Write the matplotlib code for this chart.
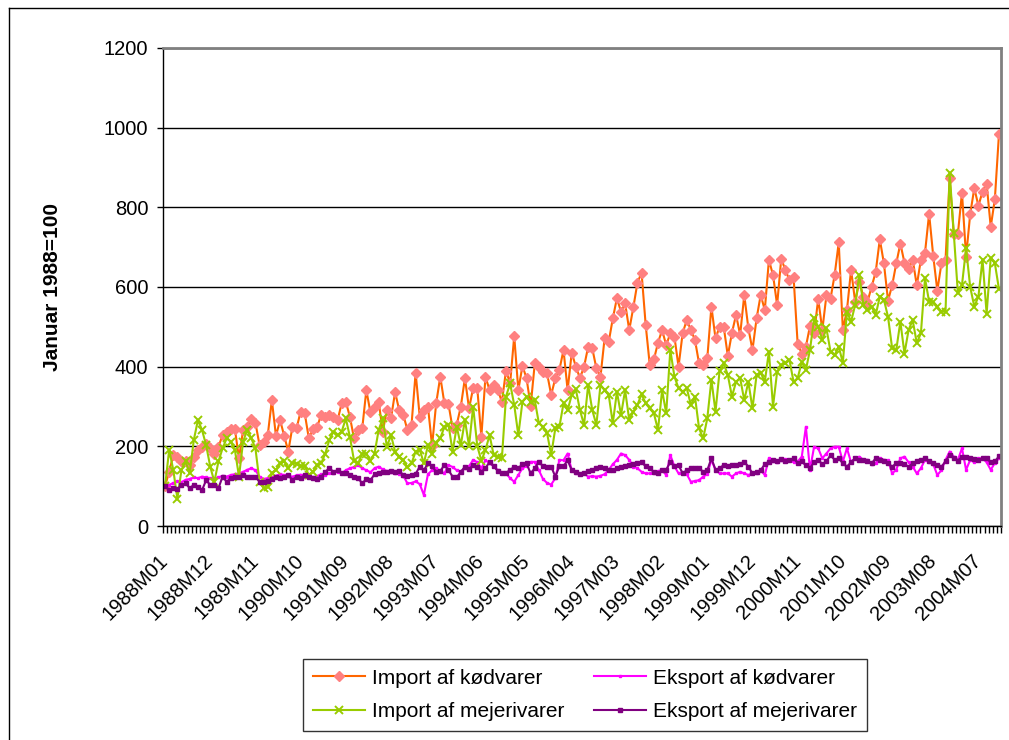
import matplotlib.pyplot as plt
import numpy as np
from matplotlib.lines import Line2D

plt.rcParams['font.family'] = ['Liberation Sans', 'DejaVu Sans']

# Indeks, januar 1988 = 100, månedlige værdier 1988M01-2004M12
import_kod = [
    100, 136, 178, 174, 162, 164, 153, 174, 191, 199, 206, 195, 182, 199, 228, 237, 243, 243, 170, 241,
    249, 268, 259, 203, 212, 228, 316, 226, 266, 226, 187, 249, 245, 287, 283, 220, 243, 248, 279, 273,
    279, 274, 266,
    308, 312, 274, 220, 241, 245, 341, 285, 300, 312, 237, 291, 270, 336, 291, 279, 241, 254, 385, 274,
    291, 300, 201, 308, 375, 308, 306, 245, 254, 300, 371, 295, 346, 346, 224, 375, 341, 354, 341, 312,
    390, 358, 477, 341, 402, 371, 301, 408, 400, 387, 383, 329, 371, 392,
    442, 341, 435, 400, 371, 400, 450, 446, 396, 375, 471, 462, 521, 572, 538, 559, 492, 549, 611, 636,
    505, 404, 418, 460, 492, 454, 484, 475, 400, 484, 517, 492, 467, 408, 404, 421, 551, 471, 500, 500,
    427, 485, 530, 480, 580, 496, 442, 521, 580,
    542, 668, 630, 555, 671, 643, 617, 626, 457, 433, 450, 502, 484, 570, 492, 579, 571, 630, 712, 492,
    542, 643, 563, 613, 576, 563, 600, 638, 720, 659, 566, 604, 659, 709, 661, 644, 669, 604, 669, 686,
    784, 678, 591, 659, 669, 873, 733, 733, 837, 676, 783, 848, 804, 839, 859, 751, 820, 983,
]

eksport_kod = [
    100, 103, 108, 112, 110, 116, 118, 122, 120, 124, 122, 120, 118, 122, 126, 124, 128, 130, 132, 136,
    141, 145, 140, 124, 118, 120, 122, 126, 130, 128, 125, 124, 127, 129, 124, 126, 122, 125, 130, 128,
    132, 134, 136,
    132, 140, 145, 148, 153, 145, 140, 135, 145, 149, 142, 138, 136, 134, 130, 126, 107, 108, 112, 105,
    78, 130, 140, 145, 138, 132, 153, 148, 140, 136, 145, 150, 166, 160, 145, 165, 158, 150, 140, 132,
    132, 120, 111, 128, 145, 150, 161, 161, 140, 118, 108, 104, 120, 166,
    165, 182, 140, 132, 130, 132, 124, 125, 124, 126, 130, 141, 155, 166, 182, 178, 166, 149, 145, 136,
    132, 132, 132, 138, 140, 128, 178, 150, 132, 132, 130, 111, 113, 115, 124, 130, 166, 141, 132, 132,
    132, 124, 132, 136, 132, 128, 132, 132, 140,
    128, 170, 162, 160, 166, 168, 165, 160, 162, 174, 249, 141, 199, 195, 170, 182, 195, 199, 199, 162,
    195, 160, 170, 174, 166, 166, 155, 158, 170, 166, 165, 132, 141, 170, 174, 160, 149, 132, 145, 166,
    160, 155, 128, 140, 166, 187, 174, 166, 195, 141, 166, 160, 170, 170, 160, 141, 158, 170,
]

import_mejeri = [
    100, 191, 141, 69, 141, 162, 132, 216, 266, 241, 203, 149, 111, 162, 195, 220, 212, 191, 124, 212,
    241, 220, 195, 111, 95, 99, 132, 141, 157, 162, 145, 159, 156, 151, 151, 128, 136, 153, 157, 182,
    216, 237, 228,
    237, 270, 224, 164, 157, 182, 182, 164, 182, 241, 270, 199, 228, 187, 174, 166, 147, 157, 187, 192,
    157, 203, 182, 208, 220, 249, 254, 187, 249, 203, 266, 201, 300, 201, 164, 191, 228, 178, 174, 170,
    325, 358, 304, 228, 312, 325, 312, 316, 258, 249, 233, 178, 245, 249,
    308, 291, 329, 343, 291, 254, 354, 291, 254, 354, 341, 329, 258, 337, 279, 341, 266, 287, 304, 331,
    308, 295, 283, 241, 341, 283, 442, 375, 346, 337, 346, 304, 325, 245, 220, 270, 367, 287, 390, 408,
    379, 325, 362, 371, 316, 362, 295, 379, 385,
    362, 438, 300, 387, 404, 408, 417, 362, 371, 412, 392, 442, 521, 500, 467, 496, 438, 429, 450, 410,
    538, 513, 555, 630, 555, 542, 551, 530, 576, 568, 525, 446, 442, 513, 433, 492, 517, 459, 484, 622,
    563, 563, 551, 538, 538, 887, 736, 585, 605, 697, 600, 551, 576, 669, 533, 673, 660, 595,
]

eksport_mejeri = [
    100, 90, 95, 92, 103, 107, 95, 103, 97, 90, 115, 103, 103, 95, 124, 111, 120, 124, 124, 128,
    124, 124, 124, 111, 111, 114, 117, 124, 120, 124, 128, 115, 124, 120, 128, 124, 120, 117, 124, 136,
    145, 136, 140,
    132, 132, 128, 124, 120, 107, 118, 115, 130, 134, 136, 136, 138, 136, 138, 128, 126, 128, 131, 149,
    140, 157, 150, 136, 138, 153, 140, 124, 122, 136, 149, 142, 153, 148, 136, 145, 161, 150, 138, 132,
    134, 140, 149, 145, 155, 157, 132, 145, 161, 150, 149, 149, 124, 150,
    150, 165, 140, 135, 130, 132, 138, 141, 145, 149, 145, 141, 140, 145, 149, 151, 153, 155, 157, 160,
    150, 145, 135, 132, 140, 141, 161, 150, 153, 132, 140, 145, 145, 145, 136, 140, 170, 141, 145, 153,
    151, 153, 153, 155, 161, 149, 132, 136, 140,
    155, 161, 166, 163, 168, 164, 166, 170, 158, 162, 152, 145, 160, 166, 155, 162, 178, 166, 170, 157,
    149, 160, 170, 166, 166, 164, 157, 170, 166, 162, 157, 149, 157, 157, 155, 149, 157, 162, 166, 170,
    164, 157, 153, 149, 162, 178, 170, 164, 174, 174, 170, 168, 166, 170, 170, 160, 162, 175,
]

months = [f'{1988 + k // 12}M{k % 12 + 1:02d}' for k in range(len(import_kod))]
label_step = 11

W, H = 1009, 740
fig = plt.figure(figsize=(W / 100, H / 100), dpi=100)
ax = fig.add_axes([163 / W, 1 - 526 / H, (1001 - 163) / W, (526 - 48) / H])

x = np.arange(len(months))
l1, = ax.plot(x, import_kod, color='#FF6600', lw=1.5, marker='D', ms=5.5,
              mfc='#FF8080', mec='#FF8080', label='Import af kødvarer')
l2, = ax.plot(x, eksport_kod, color='#FF00FF', lw=1.5, marker='s', ms=2,
              mfc='#FF00FF', mec='#FF00FF', label='Eksport af kødvarer')
l3, = ax.plot(x, import_mejeri, color='#99CC00', lw=1.5, marker='x', ms=6, mew=1.4,
              label='Import af mejerivarer')
l4, = ax.plot(x, eksport_mejeri, color='#800080', lw=1.5, marker='s', ms=3,
              mfc='#800080', mec='#800080', label='Eksport af mejerivarer')

ax.set_ylim(0, 1200)
ax.set_yticks(range(0, 1201, 200))
ax.yaxis.grid(True, color='black', lw=1)
ax.set_axisbelow(True)

ax.set_xlim(-0.5, len(x) - 0.5)
ax.set_xticks(x[::label_step])
ax.set_xticklabels(months[::label_step], rotation=45, ha='right', va='center',
                   rotation_mode='anchor')
ax.set_xticks(np.arange(-0.5, len(x), 1), minor=True)
ax.tick_params(axis='x', which='major', length=0, pad=23, labelsize=14.5)
ax.tick_params(axis='x', which='minor', length=5, width=1, direction='out')
ax.tick_params(axis='y', length=4.5, width=1, pad=6, labelsize=14.5)

for side in ('top', 'right'):
    ax.spines[side].set_color('#808080')
    ax.spines[side].set_linewidth(2)
for side in ('left', 'bottom'):
    ax.spines[side].set_color('black')
    ax.spines[side].set_linewidth(1)

fig.text(53 / W, 1 - 287 / H, 'Januar 1988=100', rotation=90, ha='center', va='center',
         fontsize=15, fontweight='bold')

leg = fig.legend([l1, l3, l2, l4],
                 [l.get_label() for l in (l1, l3, l2, l4)],
                 ncol=2, loc='center', bbox_to_anchor=(585 / W, 1 - 695 / H),
                 fancybox=False, edgecolor='black', fontsize=15, handlelength=2.5,
                 columnspacing=1.4, labelspacing=0.7, borderpad=0.45, handletextpad=0.35)
leg.get_frame().set_linewidth(1)

# rammen om hele diagrammet
fig.add_artist(Line2D([9 / W, 9 / W], [0, 1 - 8 / H], color='black', lw=1))
fig.add_artist(Line2D([9 / W, 1], [1 - 8 / H, 1 - 8 / H], color='black', lw=1))

fig.savefig('out.png', dpi=100)
